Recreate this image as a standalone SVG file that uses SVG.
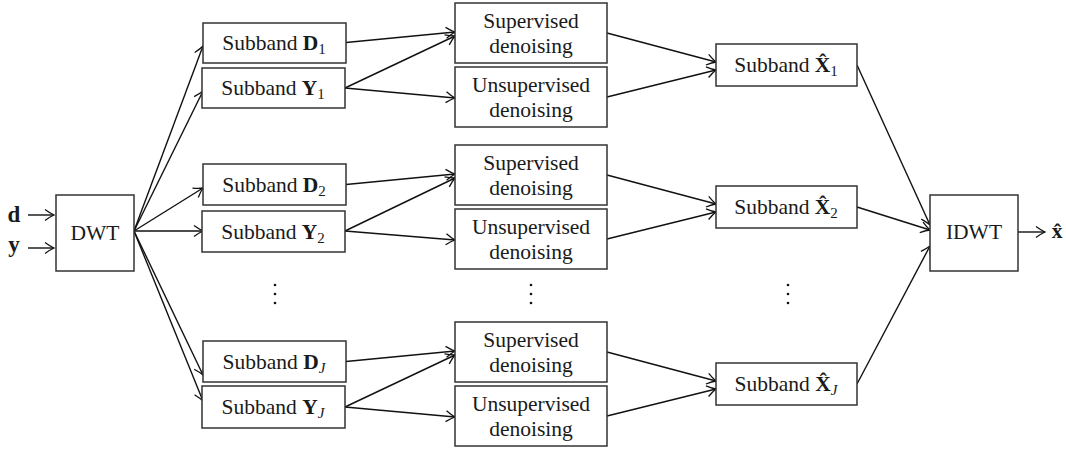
<svg xmlns="http://www.w3.org/2000/svg" width="1066" height="449" viewBox="0 0 1066 449">
<style>
.box{fill:#fff;stroke:#333;stroke-width:1.5}
.t{font-family:"Liberation Serif","Times New Roman",serif;font-size:21.5px;fill:#1a1a1a;text-anchor:middle}
.b{font-weight:bold}
.s{font-size:15px}
.i{font-style:italic}
.c line{stroke:#111;stroke-width:1.4;marker-end:url(#ah)}
.dot{fill:#111}
</style>
<defs>
<marker id="ah" markerUnits="userSpaceOnUse" markerWidth="14" markerHeight="14" viewBox="-10 -7 12 14" refX="0" refY="0" orient="auto">
<path d="M-9,-5.5 Q-3.5,-1.5 0,0 Q-3.5,1.5 -9,5.5" fill="none" stroke="#111" stroke-width="1.3"/>
</marker>
</defs>
<rect width="1066" height="449" fill="#fff"/>

<g id="connectors" class="c">
<line x1="28" y1="215" x2="54" y2="215"/>
<line x1="28" y1="248" x2="54" y2="248"/>
<line x1="134" y1="231" x2="203" y2="46"/>
<line x1="134" y1="231" x2="203" y2="91"/>
<line x1="134" y1="231" x2="203" y2="188"/>
<line x1="134" y1="231" x2="203" y2="231"/>
<line x1="134" y1="231" x2="203" y2="375"/>
<line x1="134" y1="231" x2="203" y2="401"/>
<!-- group 1 -->
<line x1="346" y1="42.5" x2="455" y2="32"/>
<line x1="345" y1="88" x2="455" y2="36"/>
<line x1="345" y1="88" x2="455" y2="98"/>
<line x1="607" y1="33" x2="716" y2="62"/>
<line x1="607" y1="97" x2="716" y2="70"/>
<!-- group 2 -->
<line x1="346" y1="184.5" x2="455" y2="174"/>
<line x1="345" y1="231" x2="455" y2="178"/>
<line x1="345" y1="231" x2="455" y2="240"/>
<line x1="607" y1="175" x2="716" y2="204"/>
<line x1="607" y1="239" x2="716" y2="212"/>
<!-- group J -->
<line x1="346" y1="361.5" x2="455" y2="351"/>
<line x1="345" y1="407" x2="455" y2="355"/>
<line x1="345" y1="407" x2="455" y2="417"/>
<line x1="607" y1="352" x2="716" y2="381"/>
<line x1="607" y1="416" x2="716" y2="389"/>
<!-- to IDWT -->
<line x1="857" y1="65" x2="930" y2="225"/>
<line x1="857" y1="207" x2="930" y2="230"/>
<line x1="857" y1="384" x2="930" y2="246"/>
<line x1="1018" y1="232" x2="1045" y2="232"/>
</g>

<g id="in_d"><text class="t b" x="14" y="222" style="font-size:23px">d</text></g>
<g id="in_y"><text class="t b" x="14" y="252" style="font-size:23px">y</text></g>

<g id="dwt"><rect class="box" x="56" y="195" width="78" height="76"/><text class="t" x="95" y="240">DWT</text></g>

<g id="subD1"><rect class="box" x="203" y="23" width="143" height="40"/><text class="t" x="274" y="50">Subband <tspan class="b">D</tspan><tspan class="s" dy="4">1</tspan></text></g>
<g id="subY1"><rect class="box" x="202" y="68" width="143" height="40"/><text class="t" x="273" y="95">Subband <tspan class="b">Y</tspan><tspan class="s" dy="4">1</tspan></text></g>
<g id="subD2"><rect class="box" x="203" y="164" width="143" height="41"/><text class="t" x="274" y="192">Subband <tspan class="b">D</tspan><tspan class="s" dy="4">2</tspan></text></g>
<g id="subY2"><rect class="box" x="202" y="211" width="143" height="41"/><text class="t" x="273" y="239">Subband <tspan class="b">Y</tspan><tspan class="s" dy="4">2</tspan></text></g>
<g id="subDJ"><rect class="box" x="203" y="341" width="143" height="41"/><text class="t" x="274" y="369">Subband <tspan class="b">D</tspan><tspan class="s i" dy="4">J</tspan></text></g>
<g id="subYJ"><rect class="box" x="202" y="386" width="143" height="42"/><text class="t" x="273" y="414">Subband <tspan class="b">Y</tspan><tspan class="s i" dy="4">J</tspan></text></g>

<g id="sup1"><rect class="box" x="455" y="3" width="152" height="60"/><text class="t" x="531" y="28">Supervised</text><text class="t" x="531" y="53">denoising</text></g>
<g id="unsup1"><rect class="box" x="455" y="67" width="152" height="60"/><text class="t" x="531" y="92">Unsupervised</text><text class="t" x="531" y="117">denoising</text></g>
<g id="sup2"><rect class="box" x="455" y="145" width="152" height="60"/><text class="t" x="531" y="170">Supervised</text><text class="t" x="531" y="195">denoising</text></g>
<g id="unsup2"><rect class="box" x="455" y="209" width="152" height="60"/><text class="t" x="531" y="234">Unsupervised</text><text class="t" x="531" y="259">denoising</text></g>
<g id="supJ"><rect class="box" x="455" y="322" width="152" height="60"/><text class="t" x="531" y="347">Supervised</text><text class="t" x="531" y="372">denoising</text></g>
<g id="unsupJ"><rect class="box" x="455" y="386" width="152" height="60"/><text class="t" x="531" y="411">Unsupervised</text><text class="t" x="531" y="436">denoising</text></g>

<g id="subX1"><rect class="box" x="716" y="44" width="141" height="42"/><text class="t" x="786" y="72">Subband <tspan class="b">X&#x0302;</tspan><tspan class="s" dy="4">1</tspan></text></g>
<g id="subX2"><rect class="box" x="716" y="186" width="141" height="42"/><text class="t" x="786" y="214">Subband <tspan class="b">X&#x0302;</tspan><tspan class="s" dy="4">2</tspan></text></g>
<g id="subXJ"><rect class="box" x="716" y="363" width="141" height="42"/><text class="t" x="786" y="391">Subband <tspan class="b">X&#x0302;</tspan><tspan class="s i" dy="4">J</tspan></text></g>

<g id="idwt"><rect class="box" x="930" y="195" width="88" height="76"/><text class="t" x="974" y="239">IDWT</text></g>
<g id="out_x"><text class="t b" x="1057" y="238">x&#x0302;</text></g>

<g id="dots">
<circle class="dot" cx="275" cy="285" r="1.3"/><circle class="dot" cx="275" cy="294" r="1.3"/><circle class="dot" cx="275" cy="303" r="1.3"/>
<circle class="dot" cx="531" cy="285" r="1.3"/><circle class="dot" cx="531" cy="294" r="1.3"/><circle class="dot" cx="531" cy="303" r="1.3"/>
<circle class="dot" cx="788" cy="285" r="1.3"/><circle class="dot" cx="788" cy="294" r="1.3"/><circle class="dot" cx="788" cy="303" r="1.3"/>
</g>
</svg>
